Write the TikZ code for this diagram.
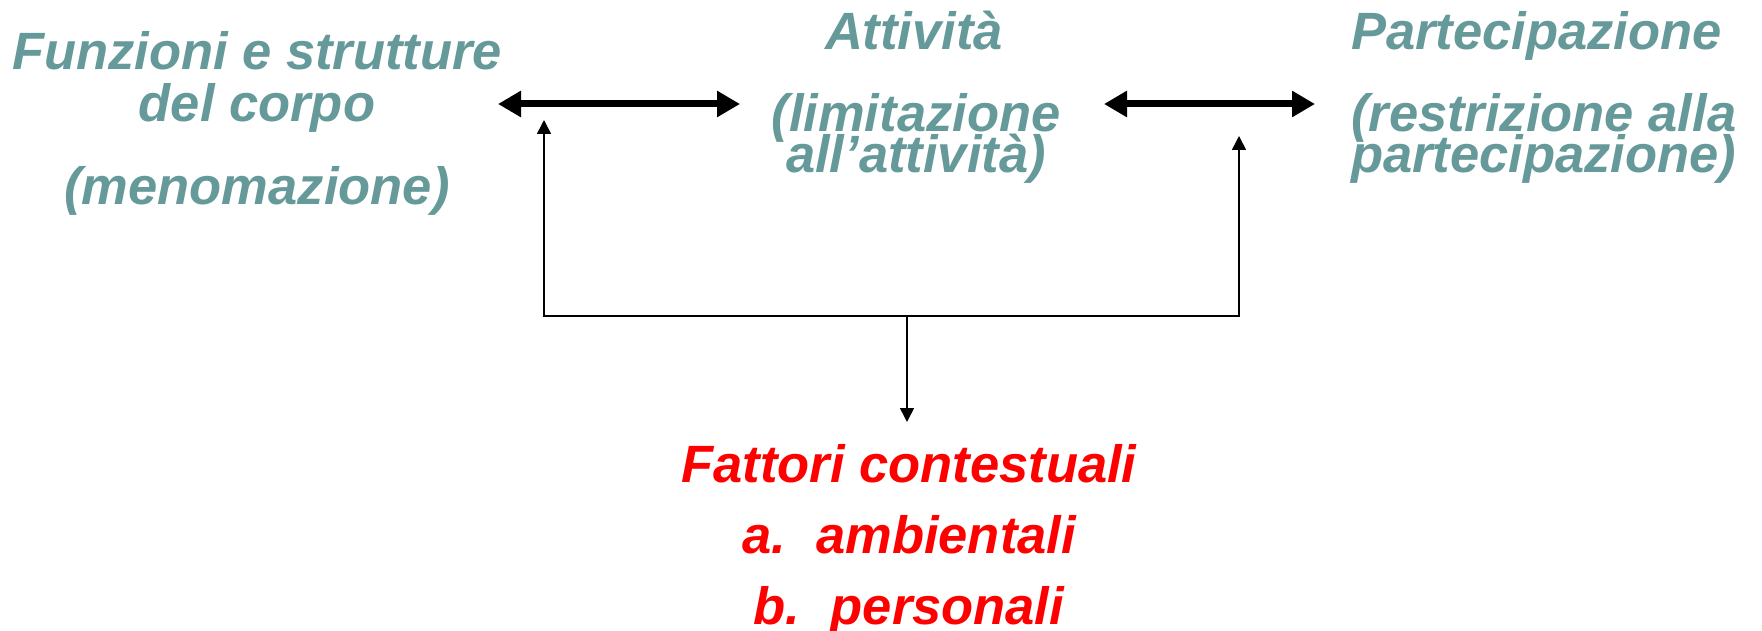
\documentclass[tikz,border=0pt]{standalone}
\usepackage{fontspec}
\setmainfont{Liberation Sans}
\usetikzlibrary{arrows.meta}
\definecolor{tealtxt}{HTML}{669999}
\definecolor{redtxt}{HTML}{FF0000}
\newcommand\stackc[2]{\vtop{\baselineskip=#1\lineskiplimit=-1000pt\halign{\hfil##\hfil\cr#2\crcr}}}
\newcommand\stackl[2]{\vtop{\baselineskip=#1\lineskiplimit=-1000pt\halign{##\hfil\cr#2\crcr}}}
\begin{document}
\begin{tikzpicture}[x=1pt,y=-1pt,
  lbl/.style={inner sep=0pt, font=\fontsize{52.5}{52.5}\selectfont\bfseries\itshape, anchor=base},
  tealtext/.style={lbl, text=tealtxt},
  redtext/.style={lbl, text=redtxt},
  bigarrow/.style={line width=7pt, {Triangle[length=23pt,width=25pt]}-{Triangle[length=23pt,width=25pt]}},
  thinline/.style={line width=1.6pt},
  thinarrow/.style={thinline, -{Triangle[length=14pt,width=14pt]}}
]
\useasboundingbox (0,0) rectangle (1762,631);

% left block
\node[tealtext] (f1) at (257,70) {\stackc{52pt}{Funzioni e strutture\cr del corpo}};
\node[tealtext] (f3) at (257,205) {(menomazione)};

% middle block
\node[tealtext] (a1) at (914,50) {Attività};
\node[tealtext] (a2) at (916,132) {\stackc{41pt}{(limitazione\cr all’attività)}};

% right block
\node[tealtext, anchor=base west] (p1) at (1351,50) {Partecipazione};
\node[tealtext, anchor=base west] (p2) at (1351,132) {\stackl{41pt}{(restrizione alla\cr partecipazione)}};

% bottom block
\node[redtext] (c1) at (909,482) {Fattori contestuali};
\node[redtext] (c2) at (909,553) {a.\ \hspace{0.3em}ambientali};
\node[redtext] (c3) at (909,624) {b.\ \hspace{0.3em}personali};

% connector points
\coordinate (l1) at (498,104);
\coordinate (l2) at (740,104);
\coordinate (r1) at (1104,104);
\coordinate (r2) at (1315,104);
\coordinate (lu) at (544,120);
\coordinate (ru) at (1239,136);
\coordinate (lb) at (544,316);
\coordinate (rb) at (1239,316);
\coordinate (mb) at (907,316);
\coordinate (md) at (907,422);

\draw[bigarrow] (l1) -- (l2);
\draw[bigarrow] (r1) -- (r2);
\draw[thinarrow] (lb) -- (lu);
\draw[thinarrow] (rb) -- (ru);
\draw[thinline, line cap=rect] (lb) -- (rb);
\draw[thinarrow] (mb) -- (md);
\end{tikzpicture}
\end{document}
